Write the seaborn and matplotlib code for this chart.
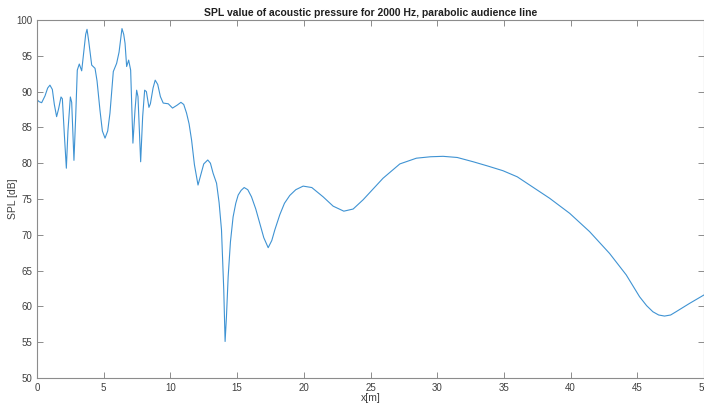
import pandas as pd
import matplotlib
matplotlib.use('Agg')
import matplotlib.pyplot as plt
import seaborn as sns

# Points (x in m, SPL in dB)
x_m = [0.0, 0.15, 0.35, 0.6, 0.8, 0.97, 1.15, 1.3, 1.47, 1.62, 1.8, 1.9, 2.05, 2.2,
       2.32, 2.5, 2.6, 2.77, 2.9, 3.02, 3.17, 3.35, 3.5, 3.65, 3.75, 3.88, 4.1,
       4.35, 4.5, 4.72, 4.9, 5.1, 5.3, 5.47, 5.6, 5.72, 5.97, 6.15, 6.37, 6.5,
       6.6, 6.72, 6.87, 7.02, 7.19, 7.35, 7.47, 7.57, 7.77, 7.92, 8.07, 8.2,
       8.39, 8.5, 8.7, 8.86, 9.05, 9.25, 9.46, 9.84, 10.16, 10.5, 10.79, 11.0,
       11.21, 11.4, 11.59, 11.8, 12.07, 12.3, 12.5, 12.8, 13.0, 13.2, 13.46,
       13.65, 13.83, 14.0, 14.1, 14.2, 14.33, 14.5, 14.7, 14.9, 15.08, 15.3,
       15.53, 15.8, 16.08, 16.4, 16.7, 17.0, 17.33, 17.6, 17.83, 18.2, 18.55,
       18.95, 19.4, 19.95, 20.6, 21.45, 22.2, 23.0, 23.7, 24.45, 25.2, 25.94,
       27.2, 28.44, 29.5, 30.44, 31.5, 32.7, 33.8, 34.93, 36.0, 36.93, 38.43,
       39.93, 41.42, 42.92, 44.17, 45.17, 45.7, 46.17, 46.6, 47.04, 47.5, 47.9,
       48.9, 50.0]
spl_db = [88.9, 88.6, 88.45, 89.4, 90.5, 90.9, 90.3, 88.2, 86.5, 87.6, 89.25, 89.0,
          84.0, 79.3, 84.5, 89.25, 88.5, 80.4, 86.5, 93.0, 93.85, 92.9, 95.5, 98.0,
          98.7, 97.0, 93.7, 93.25, 91.5, 87.4, 84.5, 83.5, 84.5, 87.0, 90.0, 92.8,
          93.95, 95.5, 98.8, 98.0, 96.75, 93.5, 94.4, 93.0, 82.8, 87.5, 90.2, 89.3,
          80.2, 86.5, 90.2, 90.0, 87.8, 88.3, 90.5, 91.6, 91.0, 89.3, 88.4, 88.3,
          87.7, 88.1, 88.5, 88.2, 87.0, 85.5, 83.2, 79.8, 76.95, 78.5, 79.9, 80.45,
          80.0, 78.6, 77.2, 74.5, 70.7, 62.3, 55.1, 58.5, 64.15, 69.0, 72.5, 74.4,
          75.55, 76.2, 76.6, 76.3, 75.3, 73.6, 71.6, 69.6, 68.2, 69.2, 70.7, 72.8,
          74.4, 75.5, 76.3, 76.8, 76.6, 75.3, 74.0, 73.3, 73.6, 74.9, 76.4, 77.9,
          79.9, 80.7, 80.9, 80.96, 80.8, 80.2, 79.6, 78.95, 78.1, 76.95, 75.1,
          73.0, 70.45, 67.4, 64.4, 61.35, 60.1, 59.25, 58.8, 58.65, 58.8, 59.25,
          60.4, 61.6]

df = pd.DataFrame({'x': x_m, 'spl': spl_db})

sns.set_style('ticks')
plt.rcParams['font.family'] = ['Liberation Sans', 'DejaVu Sans']

fig = plt.figure(figsize=(7.04, 4.03), dpi=100)
ax = fig.add_axes([37 / 704, 1 - 378 / 403, 667 / 704, 358 / 403])
sns.lineplot(data=df, x='x', y='spl', ax=ax, color='#3f93d3', linewidth=0.8)

ax.set_xlim(0, 50)
ax.set_ylim(50, 100)
ax.set_xticks(range(0, 51, 5))
ax.set_yticks(range(50, 101, 5))
ax.tick_params(direction='in', top=True, right=True, labelsize=7,
               labelcolor='#404040', color='#8c8c8c', length=4, width=0.7)
for s in ax.spines.values():
    s.set_color('#8c8c8c')
    s.set_linewidth(0.8)
ax.set_title('SPL value of acoustic pressure for 2000 Hz, parabolic audience line',
             fontsize=7.5, fontweight='bold', pad=3, color='#202020')
ax.set_xlabel('x[m]', fontsize=7.5, color='#404040')
ax.set_ylabel('SPL [dB]', fontsize=7.5, color='#404040')
ax.xaxis.set_label_coords(0.5, -0.042)
ax.yaxis.set_label_coords(-0.028, 0.5)

fig.savefig('out.png', dpi=100)
